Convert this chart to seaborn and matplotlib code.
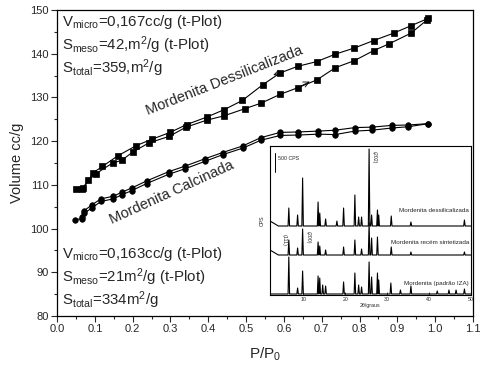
import numpy as np
import pandas as pd
import matplotlib
matplotlib.use("Agg")
import matplotlib.pyplot as plt
from matplotlib.ticker import MultipleLocator
import seaborn as sns

# ---------------- data ----------------
# Mordenita Dessilicalizada (squares)
des_ads_x = [0.050, 0.065, 0.083, 0.102, 0.147, 0.171, 0.200, 0.243, 0.297, 0.341, 0.396,
             0.442, 0.496, 0.540, 0.590, 0.636, 0.687, 0.736, 0.786, 0.837, 0.879, 0.936, 0.978]
des_ads_y = [109.0, 109.0, 111.0, 112.5, 115.0, 115.6, 117.5, 119.6, 121.1, 123.2, 124.8,
             125.8, 127.4, 128.7, 130.7, 132.2, 134.0, 136.8, 138.4, 140.7, 142.3, 144.7, 147.7]
des_des_x = [0.982, 0.936, 0.890, 0.837, 0.786, 0.736, 0.687, 0.636, 0.590, 0.544, 0.490,
             0.442, 0.396, 0.343, 0.299, 0.250, 0.210, 0.160, 0.120, 0.096, 0.070]
des_des_y = [148.1, 146.4, 144.7, 143.0, 141.3, 139.9, 138.2, 137.1, 135.6, 132.9, 129.3,
             127.2, 125.5, 123.8, 122.0, 120.4, 119.0, 116.6, 114.2, 112.8, 109.2]

# Mordenita Calcinada (circles)
cal_ads_x = [0.048, 0.065, 0.072, 0.092, 0.116, 0.149, 0.171, 0.198, 0.237, 0.295, 0.339, 0.392,
             0.438, 0.491, 0.539, 0.590, 0.638, 0.691, 0.735, 0.788, 0.832, 0.885, 0.929, 0.982]
cal_ads_y = [102.0, 102.3, 103.5, 104.7, 106.2, 106.8, 107.7, 108.7, 110.3, 112.4, 113.7, 115.4,
             116.9, 118.4, 120.2, 121.3, 121.4, 121.6, 121.5, 122.3, 122.5, 123.0, 123.3, 124.0]
cal_des_x = [0.982, 0.929, 0.885, 0.832, 0.788, 0.735, 0.691, 0.638, 0.590, 0.539, 0.491, 0.438,
             0.392, 0.339, 0.295, 0.237, 0.198, 0.171, 0.149, 0.116, 0.092, 0.072, 0.065]
cal_des_y = [124.0, 123.7, 123.6, 123.2, 123.1, 122.5, 122.3, 122.1, 122.0, 120.8, 118.9, 117.4,
             116.0, 114.3, 113.0, 110.9, 109.3, 108.3, 107.4, 106.8, 105.4, 104.1, 102.7]

# Inset XRD patterns: peak positions (2theta) and heights, with baseline levels
xrd1_base = 69
xrd1_start = 74
xrd1_pos = [6.5, 8.6, 9.8, 13.5, 13.9, 15.3, 18.0, 19.6, 22.3, 23.2, 23.9, 25.7, 26.3, 27.7, 28.0, 31.0, 35.7, 48.5]
xrd1_h = [87, 80, 117, 93, 82, 76, 74, 87, 100, 78, 78, 146, 80, 85, 80, 79, 73, 75]

xrd2_base = 40
xrd2_start = 45
xrd2_pos = [6.5, 8.6, 9.8, 13.5, 13.9, 15.3, 19.6, 22.3, 23.9, 25.7, 26.3, 27.7, 31.0, 35.7, 48.5]
xrd2_h = [55, 47, 66, 53, 49, 45, 48, 55, 46, 72, 57, 58, 48, 43, 43]

xrd3_base = 1
xrd3_start = 1
xrd3_pos = [6.5, 8.6, 9.8, 13.5, 13.9, 14.6, 15.3, 19.6, 22.3, 23.2, 23.9, 25.7, 26.3, 27.7, 28.0,
            30.9, 33.2, 35.7, 42.0, 44.8, 46.5, 48.5]
xrd3_h = [38, 7, 24, 19, 17, 10, 9, 13, 22, 10, 8, 33, 18, 22, 15, 12, 5, 9, 4, 5, 5, 6]

x_ticks = [0.0, 0.1, 0.2, 0.3, 0.4, 0.5, 0.6, 0.7, 0.8, 0.9, 1.0, 1.1]
y_ticks = [80, 90, 100, 110, 120, 130, 140, 150]
inset_ticks = [10, 20, 30, 40, 50]

# ---------------- style ----------------
sns.set_style("ticks")
plt.rcParams["font.family"] = ["Liberation Sans", "DejaVu Sans"]
plt.rcParams["mathtext.fontset"] = "custom"
plt.rcParams["mathtext.rm"] = "Liberation Sans"
plt.rcParams["mathtext.it"] = "Liberation Sans:italic"
plt.rcParams["mathtext.bf"] = "Liberation Sans:bold"

fig = plt.figure(figsize=(4.85, 3.70), dpi=100)
ax = fig.add_axes([57 / 485, 1 - 316 / 370, (473 - 57) / 485, (316 - 10) / 370])

def draw(xs, ys, marker, ax_):
    df = pd.DataFrame({"x": xs, "y": ys})
    sns.lineplot(data=df, x="x", y="y", sort=False, estimator=None, marker=marker,
                 color="black", markersize=4.0, markeredgecolor="black",
                 markeredgewidth=0.5, linewidth=0.8, ax=ax_)

draw(des_ads_x, des_ads_y, "s", ax)
draw(des_des_x, des_des_y, "s", ax)
draw(cal_ads_x, cal_ads_y, "o", ax)
draw(cal_des_x, cal_des_y, "o", ax)

ax.set_xlim(0, 1.1)
ax.set_ylim(80, 150)
ax.set_xticks(x_ticks)
ax.set_yticks(y_ticks)
ax.set_xticklabels([f"{v:.1f}" for v in x_ticks])
ax.xaxis.set_minor_locator(MultipleLocator(0.05))
ax.yaxis.set_minor_locator(MultipleLocator(5))
ax.tick_params(axis="both", which="major", direction="out", length=4, width=0.8,
               labelsize=8, pad=2)
ax.tick_params(axis="both", which="minor", direction="out", length=2.5, width=0.8)
for s in ax.spines.values():
    s.set_visible(True)
    s.set_linewidth(0.9)
    s.set_color("black")
ax.set_xlabel("P/P$_{0}$", fontsize=11, labelpad=8)
ax.set_ylabel("Volume cc/g", fontsize=10.5, labelpad=4)

# annotations
txt_kw = dict(transform=ax.transAxes, fontsize=10.8, ha="left", va="center")
def fx(px):
    return (px - 57) / 416
def fy(py):
    return (316 - py) / 306

ax.text(fx(62), fy(22), r"V$_{\mathrm{micro}}$=0,167cc/g (t-Plot)", **txt_kw)
ax.text(fx(62), fy(45), r"S$_{\mathrm{meso}}$=42,m$^{2}$/g (t-Plot)", **txt_kw)
ax.text(fx(62), fy(68), r"S$_{\mathrm{total}}$=359,m$^{2}$/g", **txt_kw)

ax.text(fx(62), fy(254), r"V$_{\mathrm{micro}}$=0,163cc/g (t-Plot)", **txt_kw)
ax.text(fx(62), fy(277), r"S$_{\mathrm{meso}}$=21m$^{2}$/g (t-Plot)", **txt_kw)
ax.text(fx(62), fy(300), r"S$_{\mathrm{total}}$=334m$^{2}$/g", **txt_kw)

ax.text(fx(224), fy(81), "Mordenita Dessilicalizada", transform=ax.transAxes,
        fontsize=10.5, rotation=21.5, ha="center", va="center", rotation_mode="anchor")
ax.text(fx(172), fy(192), "Mordenita Calcinada", transform=ax.transAxes,
        fontsize=10.5, rotation=24.5, ha="center", va="center", rotation_mode="anchor")

# direction arrows on the loop
ax.annotate("", xy=(0.565, 134.9), xytext=(0.60, 136.0),
            arrowprops=dict(arrowstyle="->", color="black", lw=0.6))
ax.annotate("", xy=(0.675, 133.9), xytext=(0.64, 132.4),
            arrowprops=dict(arrowstyle="->", color="black", lw=0.6))

# ---------------- inset ----------------
axi = fig.add_axes([270 / 485, 1 - 295 / 370, (470.7 - 270) / 485, (295 - 146) / 370])

def pattern(base, start, pos, h):
    xs = [2.0, 4.0]
    ys = [start, base]
    for p, v in zip(pos, h):
        xs += [p - 0.18, p, p + 0.18]
        ys += [base, v, base]
    xs.append(50.0)
    ys.append(base)
    return xs, ys

for base, start, pos, h in [(xrd1_base, xrd1_start, xrd1_pos, xrd1_h),
                            (xrd2_base, xrd2_start, xrd2_pos, xrd2_h),
                            (xrd3_base, xrd3_start, xrd3_pos, xrd3_h)]:
    xs, ys = pattern(base, start, pos, h)
    df = pd.DataFrame({"t": xs, "i": ys})
    sns.lineplot(data=df, x="t", y="i", sort=False, estimator=None, color="black",
                 linewidth=0.8, ax=axi)

axi.set_xlim(2, 50)
axi.set_ylim(0, 149)
axi.set_xticks(inset_ticks)
axi.set_yticks([])
axi.tick_params(axis="x", direction="in", length=2, width=0.6, labelsize=3.8, pad=1.5)
for s in axi.spines.values():
    s.set_visible(True)
    s.set_linewidth(0.8)
    s.set_color("black")
axi.set_xlabel("2θ/graus", fontsize=3.8, labelpad=0.5)
axi.set_ylabel("CPS", fontsize=3.8, labelpad=4)

axi.text(49.6, 85, "Mordenita dessilicalizada", fontsize=4.5, ha="right", va="center")
axi.text(49.6, 52, "Mordenita recém sintetizada", fontsize=4.5, ha="right", va="center")
axi.text(49.6, 12, "Mordenita (padrão IZA)", fontsize=4.5, ha="right", va="center")
axi.plot([3.3, 3.3], [123, 142], color="black", lw=0.7)
axi.text(3.8, 137, "500 CPS", fontsize=3.8, ha="left", va="center")
axi.text(26.9, 138, "(202)", fontsize=3.8, rotation=270, ha="center", va="center")
axi.text(5.3, 55, "(111)", fontsize=3.8, rotation=270, ha="center", va="center")
axi.text(11.0, 58, "(200)", fontsize=3.8, rotation=270, ha="center", va="center")

fig.savefig("out.png", dpi=100)
